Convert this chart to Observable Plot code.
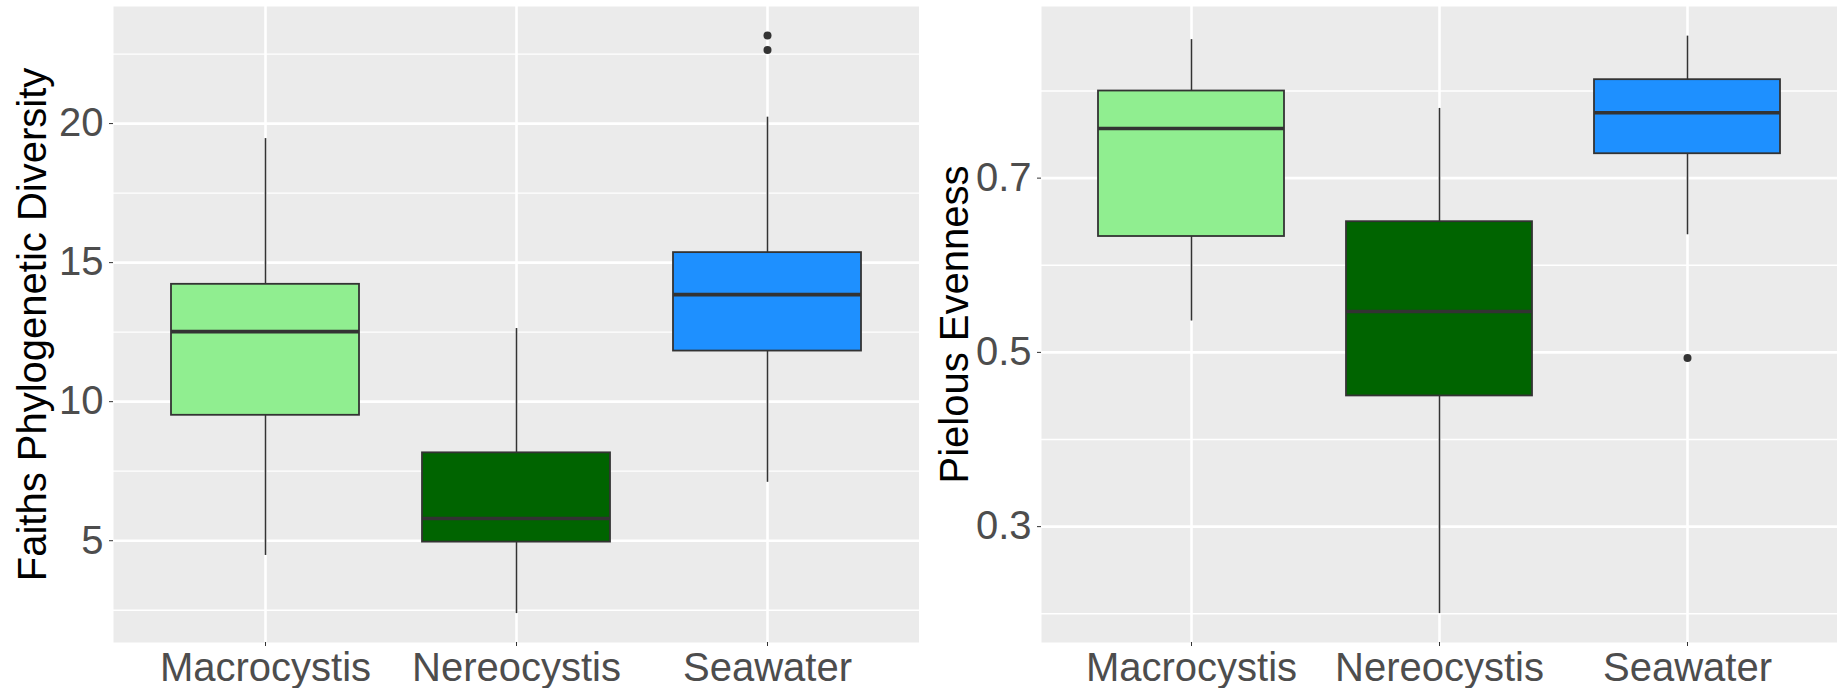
<!DOCTYPE html>
<html>
<head>
<meta charset="utf-8">
<script src="https://cdn.jsdelivr.net/npm/d3@7"></script>
<script src="https://cdn.jsdelivr.net/npm/@observablehq/plot@0.6"></script>
<style>
  html, body { margin: 0; padding: 0; background: white; }
  #wrap { display: flex; flex-direction: row; width: 1837px; height: 688px; }
  svg text { font-family: "Liberation Sans", Arial, sans-serif; }
</style>
</head>
<body>
<div id="wrap"></div>
<script>
// ---------- data ----------
const categories = ["Macrocystis", "Nereocystis", "Seawater"];
const colors = ["#90EE90", "#006400", "#1E90FF"];

// Faith's phylogenetic diversity (left panel)
const pdLow    = [4.47, 2.38, 7.10];
const pdQ1     = [9.51, 4.95, 11.82];
const pdMedian = [12.52, 5.80, 13.85];
const pdQ3     = [14.22, 8.16, 15.36];
const pdHigh   = [19.46, 12.63, 20.23];
const pdOutlierGroup = ["Seawater", "Seawater"];
const pdOutlierValue = [23.17, 22.65];
const pdMajorTicks = [5, 10, 15, 20];
const pdMinorGrid  = [2.5, 7.5, 12.5, 17.5, 22.5];
const pdDomain = [1.34, 24.21];

// Pielou evenness (right panel)
const evLow    = [0.536, 0.2002, 0.635];
const evQ1     = [0.633, 0.450, 0.728];
const evMedian = [0.757, 0.547, 0.775];
const evQ3     = [0.800, 0.650, 0.813];
const evHigh   = [0.859, 0.780, 0.863];
const evOutlierGroup = ["Seawater"];
const evOutlierValue = [0.4935];
const evMajorTicks = [0.3, 0.5, 0.7];
const evMinorGrid  = [0.2, 0.4, 0.6, 0.8];
const evDomain = [0.167, 0.897];

function table(lo, q1, med, q3, hi) {
  return categories.map((g, i) => ({group: g, lo: lo[i], q1: q1[i], median: med[i], q3: q3[i], hi: hi[i]}));
}

function panel({rows, outliers, majors, minors, domain, title, width, marginLeft, titleDx, fmt}) {
  return Plot.plot({
    width, height: 688,
    marginLeft, marginRight: 0, marginTop: 6, marginBottom: 46,
    style: {fontFamily: "'Liberation Sans', Arial, sans-serif", fontSize: "40px", background: "white", overflow: "visible"},
    x: {domain: categories, paddingInner: 0.25, paddingOuter: 0.225, align: 0.5, axis: null},
    y: {domain, axis: null},
    color: {domain: categories, range: colors},
    marks: [
      Plot.frame({fill: "#EBEBEB", stroke: "none"}),
      Plot.ruleY(minors, {stroke: "white", strokeWidth: 1.3}),
      Plot.ruleY(majors, {stroke: "white", strokeWidth: 2.6}),
      Plot.ruleX(categories, {x: d => d, stroke: "white", strokeWidth: 2.6}),
      Plot.ruleX(rows, {x: "group", y1: "lo", y2: "q1", stroke: "#333333", strokeWidth: 1.6}),
      Plot.ruleX(rows, {x: "group", y1: "q3", y2: "hi", stroke: "#333333", strokeWidth: 1.6}),
      Plot.barY(rows, {x: "group", y1: "q1", y2: "q3", fill: "group", stroke: "#333333", strokeWidth: 1.8}),
      Plot.tickY(rows, {x: "group", y: "median", stroke: "#333333", strokeWidth: 3.6}),
      Plot.dot(outliers, {x: "group", y: "value", r: 4, fill: "#333333", stroke: "none"}),
      Plot.axisY({ticks: majors, tickFormat: fmt, tickSize: 4, tickPadding: 6, fontSize: 40, label: null, fill: "#4D4D4D", stroke: "#333333"}),
      Plot.axisX({tickSize: 4, tickPadding: 6, fontSize: 40, label: null, fill: "#4D4D4D", stroke: "#333333"}),
      Plot.text([title], {frameAnchor: "left", dx: titleDx, rotate: -90, textAnchor: "middle", lineAnchor: "middle", fontSize: 40, fill: "black", text: d => d})
    ]
  });
}

const wrap = document.getElementById("wrap");
wrap.appendChild(panel({
  rows: table(pdLow, pdQ1, pdMedian, pdQ3, pdHigh),
  outliers: pdOutlierGroup.map((g, i) => ({group: g, value: pdOutlierValue[i]})),
  majors: pdMajorTicks, minors: pdMinorGrid, domain: pdDomain,
  title: "Faiths Phylogenetic Diversity",
  width: 919, marginLeft: 113, titleDx: -80, fmt: d3.format("d")
}));
wrap.appendChild(panel({
  rows: table(evLow, evQ1, evMedian, evQ3, evHigh),
  outliers: evOutlierGroup.map((g, i) => ({group: g, value: evOutlierValue[i]})),
  majors: evMajorTicks, minors: evMinorGrid, domain: evDomain,
  title: "Pielous Evenness",
  width: 918, marginLeft: 122, titleDx: -86, fmt: d3.format(".1f")
}));
</script>
</body>
</html>
